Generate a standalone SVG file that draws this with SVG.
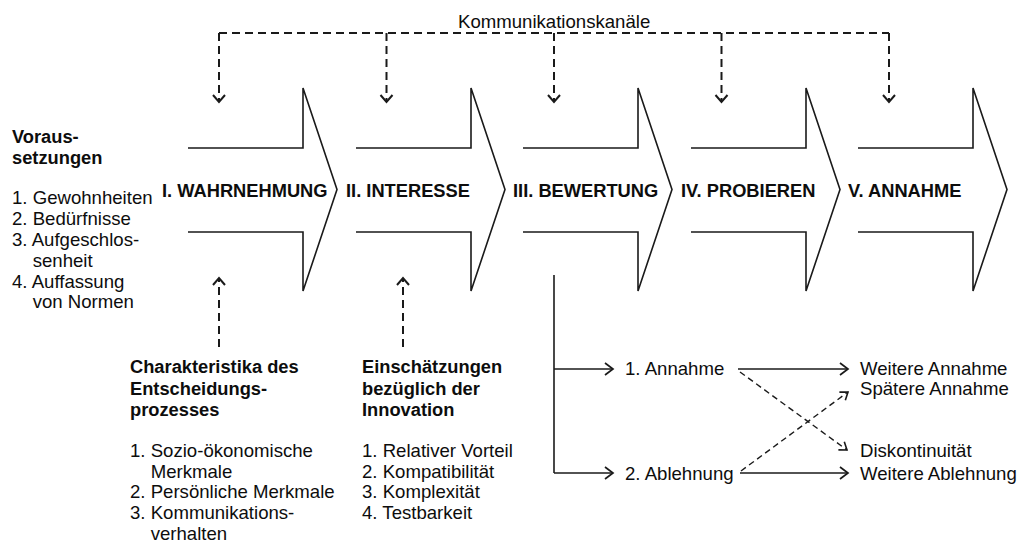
<svg xmlns="http://www.w3.org/2000/svg" width="1020" height="543" viewBox="0 0 1020 543">
  <style>
    text { font-family: "Liberation Sans", Arial, sans-serif; font-size: 18.6px; fill: #0d0d0d; }
    .b { font-weight: bold; font-size: 18.3px; }
    .stage { fill: none; stroke: #1a1a1a; stroke-width: 1.6; stroke-linejoin: miter; }
    .dash { fill: none; stroke: #1a1a1a; stroke-width: 2; stroke-dasharray: 8 5; }
    .dash2 { fill: none; stroke: #1a1a1a; stroke-width: 1.4; stroke-dasharray: 6 4; }
    .solid { fill: none; stroke: #1a1a1a; stroke-width: 1.6; }
  </style>
  <defs>
    <marker id="vhead" markerUnits="userSpaceOnUse" markerWidth="14" markerHeight="16" refX="9" refY="7" orient="auto">
      <path d="M2,1 L9,7 L2,13" fill="none" stroke="#1a1a1a" stroke-width="2"/>
    </marker>
    <marker id="shead" markerUnits="userSpaceOnUse" markerWidth="14" markerHeight="16" refX="9" refY="7" orient="auto">
      <path d="M1,1 L9,7 L1,13" fill="none" stroke="#1a1a1a" stroke-width="1.7"/>
    </marker>
    <marker id="dhead" markerUnits="userSpaceOnUse" markerWidth="14" markerHeight="16" refX="9" refY="6" orient="auto">
      <path d="M2,1 L9,6 L2,11" fill="none" stroke="#1a1a1a" stroke-width="1.6"/>
    </marker>
  </defs>

  <g id="stage-1">
    <path class="stage" d="M188,148 H303 V88 L337,189.5 L303,291 V232 H188"/>
    <text class="b" x="162" y="197">I. WAHRNEHMUNG</text>
  </g>
  <g id="stage-2">
    <path class="stage" d="M356,148 H471 V88 L505,189.5 L471,291 V232 H356"/>
    <text class="b" x="346" y="197">II. INTERESSE</text>
  </g>
  <g id="stage-3">
    <path class="stage" d="M523,148 H638 V88 L672,189.5 L638,291 V232 H523"/>
    <text class="b" x="513" y="197">III. BEWERTUNG</text>
  </g>
  <g id="stage-4">
    <path class="stage" d="M691,148 H806 V88 L840,189.5 L806,291 V232 H691"/>
    <text class="b" x="681" y="197">IV. PROBIEREN</text>
  </g>
  <g id="stage-5">
    <path class="stage" d="M858,148 H973 V88 L1007,189.5 L973,291 V232 H858"/>
    <text class="b" x="848" y="197">V. ANNAHME</text>
  </g>

  <g id="kommunikationskanaele">
    <text x="458" y="28">Kommunikationskanäle</text>
  </g>

  <g id="voraussetzungen">
    <text class="b" x="12" y="143">Voraus-</text>
    <text class="b" x="12" y="164">setzungen</text>
    <text x="12" y="204">1. Gewohnheiten</text>
    <text x="12" y="225">2. Bedürfnisse</text>
    <text x="12" y="246">3. Aufgeschlos-</text>
    <text x="32.7" y="267">senheit</text>
    <text x="12" y="288">4. Auffassung</text>
    <text x="32.7" y="308">von Normen</text>
  </g>

  <g id="charakteristika">
    <text class="b" x="130" y="373">Charakteristika des</text>
    <text class="b" x="130" y="394.5">Entscheidungs-</text>
    <text class="b" x="130" y="416">prozesses</text>
    <text x="130" y="457">1. Sozio-ökonomische</text>
    <text x="150.7" y="477.5">Merkmale</text>
    <text x="130" y="498">2. Persönliche Merkmale</text>
    <text x="130" y="519">3. Kommunikations-</text>
    <text x="150.7" y="539.5">verhalten</text>
  </g>

  <g id="einschaetzungen">
    <text class="b" x="362" y="373">Einschätzungen</text>
    <text class="b" x="362" y="394.5">bezüglich der</text>
    <text class="b" x="362" y="416">Innovation</text>
    <text x="362" y="457">1. Relativer Vorteil</text>
    <text x="362" y="477.5">2. Kompatibilität</text>
    <text x="362" y="498">3. Komplexität</text>
    <text x="362" y="519">4. Testbarkeit</text>
  </g>

  <g id="annahme">
    <text x="625" y="375">1. Annahme</text>
  </g>
  <g id="ablehnung">
    <text x="625" y="480">2. Ablehnung</text>
  </g>
  <g id="weitere-annahme">
    <text x="860" y="375">Weitere Annahme</text>
  </g>
  <g id="spaetere-annahme">
    <text x="860" y="395">Spätere Annahme</text>
  </g>
  <g id="diskontinuitaet">
    <text x="860" y="457">Diskontinuität</text>
  </g>
  <g id="weitere-ablehnung">
    <text x="860" y="480">Weitere Ablehnung</text>
  </g>

  <g id="connectors">
    <path class="dash" d="M219,33 H889"/>
    <path class="dash" d="M219,33 V102" marker-end="url(#vhead)"/>
    <path class="dash" d="M386.5,33 V102" marker-end="url(#vhead)"/>
    <path class="dash" d="M554,33 V102" marker-end="url(#vhead)"/>
    <path class="dash" d="M721.5,33 V102" marker-end="url(#vhead)"/>
    <path class="dash" d="M889,33 V102" marker-end="url(#vhead)"/>

    <path class="dash" d="M219,347 V278" marker-end="url(#vhead)"/>
    <path class="dash" d="M403,347 V278" marker-end="url(#vhead)"/>

    <path class="solid" d="M554,275 V473"/>
    <path class="solid" d="M554,369 H613" marker-end="url(#shead)"/>
    <path class="solid" d="M554,473 H613" marker-end="url(#shead)"/>
    <path class="solid" d="M738,369 H848" marker-end="url(#shead)"/>
    <path class="solid" d="M740,473 H848" marker-end="url(#shead)"/>

    <path class="dash2" d="M740,372 L847,450" marker-end="url(#dhead)"/>
    <path class="dash2" d="M741,471 L848,392" marker-end="url(#dhead)"/>
  </g>
</svg>
